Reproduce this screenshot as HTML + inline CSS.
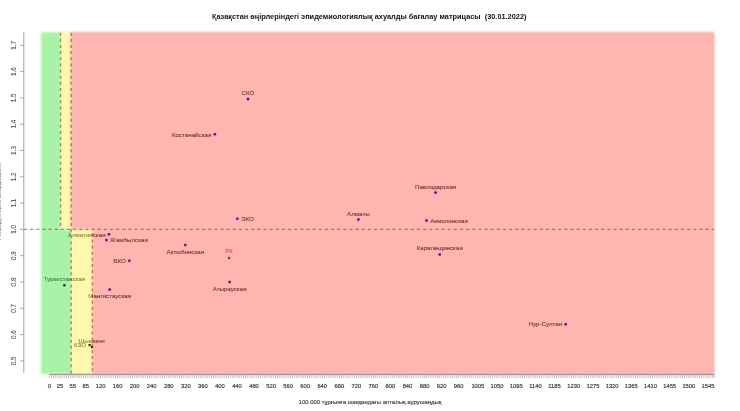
<!DOCTYPE html><html><head><meta charset="utf-8"><style>
html,body{margin:0;padding:0;background:#fff;}
body{width:740px;height:411px;overflow:hidden;font-family:"Liberation Sans",sans-serif;}
svg{display:block;}
text{opacity:0.999;}
.bl{filter:blur(0.8px);}
</style></head><body>
<svg width="740" height="411" viewBox="0 0 740 411" font-family="Liberation Sans, sans-serif">
<rect x="0" y="0" width="740" height="411" fill="#fff"/>
<g class="bl">
<rect x="41.0" y="32.3" width="673.2" height="341.5" fill="#ffb6b0"/>
<rect x="71.1" y="32.8" width="642.6" height="341.0" fill="none" stroke="rgba(120,80,80,0.22)" stroke-width="1"/>
<polygon points="41.0,32.3 71.1,32.3 71.1,229.4 92.4,229.4 92.4,373.8 41.0,373.8" fill="#fdf8ae"/>
<polygon points="41.0,32.3 60.5,32.3 60.5,229.4 71.1,229.4 71.1,373.8 41.0,373.8" fill="#a9f2a9"/>
</g>
<g stroke="rgba(125,40,32,0.55)" stroke-width="1.4" fill="none">
<line x1="60.5" y1="32.3" x2="60.5" y2="229.4" stroke-dasharray="3.0 3.140" stroke-dashoffset="5.740"/>
<line x1="71.1" y1="32.3" x2="71.1" y2="373.8" stroke-dasharray="3.0 3.140" stroke-dashoffset="5.740"/>
<line x1="92.4" y1="229.4" x2="92.4" y2="373.8" stroke-dasharray="3.0 3.140" stroke-dashoffset="2.300"/>
<line x1="20.5" y1="229.4" x2="714.2" y2="229.4" stroke-dasharray="3.0 3.140" stroke-dashoffset="2.580"/>
</g>
<g stroke="#a0a0a0" stroke-width="1" fill="none">
<line x1="23.8" y1="32.3" x2="23.8" y2="372.8"/>
<line x1="20.2" y1="360.90" x2="23.8" y2="360.90"/>
<line x1="20.2" y1="334.60" x2="23.8" y2="334.60"/>
<line x1="20.2" y1="308.30" x2="23.8" y2="308.30"/>
<line x1="20.2" y1="282.00" x2="23.8" y2="282.00"/>
<line x1="20.2" y1="255.70" x2="23.8" y2="255.70"/>
<line x1="20.2" y1="229.40" x2="23.8" y2="229.40"/>
<line x1="20.2" y1="203.10" x2="23.8" y2="203.10"/>
<line x1="20.2" y1="176.80" x2="23.8" y2="176.80"/>
<line x1="20.2" y1="150.50" x2="23.8" y2="150.50"/>
<line x1="20.2" y1="124.20" x2="23.8" y2="124.20"/>
<line x1="20.2" y1="97.90" x2="23.8" y2="97.90"/>
<line x1="20.2" y1="71.60" x2="23.8" y2="71.60"/>
<line x1="20.2" y1="45.30" x2="23.8" y2="45.30"/>
</g>
<g fill="#555" stroke="#555" stroke-width="0.1" font-size="6.3" text-anchor="middle">
<text transform="translate(16.0,360.90) rotate(-90)">0.5</text>
<text transform="translate(16.0,334.60) rotate(-90)">0.6</text>
<text transform="translate(16.0,308.30) rotate(-90)">0.7</text>
<text transform="translate(16.0,282.00) rotate(-90)">0.8</text>
<text transform="translate(16.0,255.70) rotate(-90)">0.9</text>
<text transform="translate(16.0,229.40) rotate(-90)">1.0</text>
<text transform="translate(16.0,203.10) rotate(-90)">1.1</text>
<text transform="translate(16.0,176.80) rotate(-90)">1.2</text>
<text transform="translate(16.0,150.50) rotate(-90)">1.3</text>
<text transform="translate(16.0,124.20) rotate(-90)">1.4</text>
<text transform="translate(16.0,97.90) rotate(-90)">1.5</text>
<text transform="translate(16.0,71.60) rotate(-90)">1.6</text>
<text transform="translate(16.0,45.30) rotate(-90)">1.7</text>
</g>
<text transform="translate(1.3,201) rotate(-90)" font-size="5.7" fill="#6a6a6a" text-anchor="middle">Репродуктивтік коэффициент</text>
<g stroke="#a0a0a8" stroke-width="0.7" fill="none">
<line x1="49.4" y1="374.3" x2="714.4" y2="374.3" stroke="rgba(80,55,55,0.6)" stroke-width="1"/>
<line x1="49.40" y1="374.3" x2="49.40" y2="378.1"/>
<line x1="51.53" y1="374.3" x2="51.53" y2="378.1"/>
<line x1="53.66" y1="374.3" x2="53.66" y2="378.1"/>
<line x1="55.79" y1="374.3" x2="55.79" y2="378.1"/>
<line x1="57.93" y1="374.3" x2="57.93" y2="378.1"/>
<line x1="60.06" y1="374.3" x2="60.06" y2="378.1"/>
<line x1="62.19" y1="374.3" x2="62.19" y2="378.1"/>
<line x1="64.32" y1="374.3" x2="64.32" y2="378.1"/>
<line x1="66.45" y1="374.3" x2="66.45" y2="378.1"/>
<line x1="68.58" y1="374.3" x2="68.58" y2="378.1"/>
<line x1="70.72" y1="374.3" x2="70.72" y2="378.1"/>
<line x1="72.85" y1="374.3" x2="72.85" y2="378.1"/>
<line x1="74.98" y1="374.3" x2="74.98" y2="378.1"/>
<line x1="77.11" y1="374.3" x2="77.11" y2="378.1"/>
<line x1="79.24" y1="374.3" x2="79.24" y2="378.1"/>
<line x1="81.37" y1="374.3" x2="81.37" y2="378.1"/>
<line x1="83.50" y1="374.3" x2="83.50" y2="378.1"/>
<line x1="85.64" y1="374.3" x2="85.64" y2="378.1"/>
<line x1="87.77" y1="374.3" x2="87.77" y2="378.1"/>
<line x1="89.90" y1="374.3" x2="89.90" y2="378.1"/>
<line x1="92.03" y1="374.3" x2="92.03" y2="378.1"/>
<line x1="94.16" y1="374.3" x2="94.16" y2="378.1"/>
<line x1="96.29" y1="374.3" x2="96.29" y2="378.1"/>
<line x1="98.42" y1="374.3" x2="98.42" y2="378.1"/>
<line x1="100.56" y1="374.3" x2="100.56" y2="378.1"/>
<line x1="102.69" y1="374.3" x2="102.69" y2="378.1"/>
<line x1="104.82" y1="374.3" x2="104.82" y2="378.1"/>
<line x1="106.95" y1="374.3" x2="106.95" y2="378.1"/>
<line x1="109.08" y1="374.3" x2="109.08" y2="378.1"/>
<line x1="111.21" y1="374.3" x2="111.21" y2="378.1"/>
<line x1="113.34" y1="374.3" x2="113.34" y2="378.1"/>
<line x1="115.48" y1="374.3" x2="115.48" y2="378.1"/>
<line x1="117.61" y1="374.3" x2="117.61" y2="378.1"/>
<line x1="119.74" y1="374.3" x2="119.74" y2="378.1"/>
<line x1="121.87" y1="374.3" x2="121.87" y2="378.1"/>
<line x1="124.00" y1="374.3" x2="124.00" y2="378.1"/>
<line x1="126.13" y1="374.3" x2="126.13" y2="378.1"/>
<line x1="128.27" y1="374.3" x2="128.27" y2="378.1"/>
<line x1="130.40" y1="374.3" x2="130.40" y2="378.1"/>
<line x1="132.53" y1="374.3" x2="132.53" y2="378.1"/>
<line x1="134.66" y1="374.3" x2="134.66" y2="378.1"/>
<line x1="136.79" y1="374.3" x2="136.79" y2="378.1"/>
<line x1="138.92" y1="374.3" x2="138.92" y2="378.1"/>
<line x1="141.05" y1="374.3" x2="141.05" y2="378.1"/>
<line x1="143.19" y1="374.3" x2="143.19" y2="378.1"/>
<line x1="145.32" y1="374.3" x2="145.32" y2="378.1"/>
<line x1="147.45" y1="374.3" x2="147.45" y2="378.1"/>
<line x1="149.58" y1="374.3" x2="149.58" y2="378.1"/>
<line x1="151.71" y1="374.3" x2="151.71" y2="378.1"/>
<line x1="153.84" y1="374.3" x2="153.84" y2="378.1"/>
<line x1="155.97" y1="374.3" x2="155.97" y2="378.1"/>
<line x1="158.11" y1="374.3" x2="158.11" y2="378.1"/>
<line x1="160.24" y1="374.3" x2="160.24" y2="378.1"/>
<line x1="162.37" y1="374.3" x2="162.37" y2="378.1"/>
<line x1="164.50" y1="374.3" x2="164.50" y2="378.1"/>
<line x1="166.63" y1="374.3" x2="166.63" y2="378.1"/>
<line x1="168.76" y1="374.3" x2="168.76" y2="378.1"/>
<line x1="170.90" y1="374.3" x2="170.90" y2="378.1"/>
<line x1="173.03" y1="374.3" x2="173.03" y2="378.1"/>
<line x1="175.16" y1="374.3" x2="175.16" y2="378.1"/>
<line x1="177.29" y1="374.3" x2="177.29" y2="378.1"/>
<line x1="179.42" y1="374.3" x2="179.42" y2="378.1"/>
<line x1="181.55" y1="374.3" x2="181.55" y2="378.1"/>
<line x1="183.68" y1="374.3" x2="183.68" y2="378.1"/>
<line x1="185.82" y1="374.3" x2="185.82" y2="378.1"/>
<line x1="187.95" y1="374.3" x2="187.95" y2="378.1"/>
<line x1="190.08" y1="374.3" x2="190.08" y2="378.1"/>
<line x1="192.21" y1="374.3" x2="192.21" y2="378.1"/>
<line x1="194.34" y1="374.3" x2="194.34" y2="378.1"/>
<line x1="196.47" y1="374.3" x2="196.47" y2="378.1"/>
<line x1="198.61" y1="374.3" x2="198.61" y2="378.1"/>
<line x1="200.74" y1="374.3" x2="200.74" y2="378.1"/>
<line x1="202.87" y1="374.3" x2="202.87" y2="378.1"/>
<line x1="205.00" y1="374.3" x2="205.00" y2="378.1"/>
<line x1="207.13" y1="374.3" x2="207.13" y2="378.1"/>
<line x1="209.26" y1="374.3" x2="209.26" y2="378.1"/>
<line x1="211.39" y1="374.3" x2="211.39" y2="378.1"/>
<line x1="213.53" y1="374.3" x2="213.53" y2="378.1"/>
<line x1="215.66" y1="374.3" x2="215.66" y2="378.1"/>
<line x1="217.79" y1="374.3" x2="217.79" y2="378.1"/>
<line x1="219.92" y1="374.3" x2="219.92" y2="378.1"/>
<line x1="222.05" y1="374.3" x2="222.05" y2="378.1"/>
<line x1="224.18" y1="374.3" x2="224.18" y2="378.1"/>
<line x1="226.31" y1="374.3" x2="226.31" y2="378.1"/>
<line x1="228.45" y1="374.3" x2="228.45" y2="378.1"/>
<line x1="230.58" y1="374.3" x2="230.58" y2="378.1"/>
<line x1="232.71" y1="374.3" x2="232.71" y2="378.1"/>
<line x1="234.84" y1="374.3" x2="234.84" y2="378.1"/>
<line x1="236.97" y1="374.3" x2="236.97" y2="378.1"/>
<line x1="239.10" y1="374.3" x2="239.10" y2="378.1"/>
<line x1="241.24" y1="374.3" x2="241.24" y2="378.1"/>
<line x1="243.37" y1="374.3" x2="243.37" y2="378.1"/>
<line x1="245.50" y1="374.3" x2="245.50" y2="378.1"/>
<line x1="247.63" y1="374.3" x2="247.63" y2="378.1"/>
<line x1="249.76" y1="374.3" x2="249.76" y2="378.1"/>
<line x1="251.89" y1="374.3" x2="251.89" y2="378.1"/>
<line x1="254.02" y1="374.3" x2="254.02" y2="378.1"/>
<line x1="256.16" y1="374.3" x2="256.16" y2="378.1"/>
<line x1="258.29" y1="374.3" x2="258.29" y2="378.1"/>
<line x1="260.42" y1="374.3" x2="260.42" y2="378.1"/>
<line x1="262.55" y1="374.3" x2="262.55" y2="378.1"/>
<line x1="264.68" y1="374.3" x2="264.68" y2="378.1"/>
<line x1="266.81" y1="374.3" x2="266.81" y2="378.1"/>
<line x1="268.94" y1="374.3" x2="268.94" y2="378.1"/>
<line x1="271.08" y1="374.3" x2="271.08" y2="378.1"/>
<line x1="273.21" y1="374.3" x2="273.21" y2="378.1"/>
<line x1="275.34" y1="374.3" x2="275.34" y2="378.1"/>
<line x1="277.47" y1="374.3" x2="277.47" y2="378.1"/>
<line x1="279.60" y1="374.3" x2="279.60" y2="378.1"/>
<line x1="281.73" y1="374.3" x2="281.73" y2="378.1"/>
<line x1="283.87" y1="374.3" x2="283.87" y2="378.1"/>
<line x1="286.00" y1="374.3" x2="286.00" y2="378.1"/>
<line x1="288.13" y1="374.3" x2="288.13" y2="378.1"/>
<line x1="290.26" y1="374.3" x2="290.26" y2="378.1"/>
<line x1="292.39" y1="374.3" x2="292.39" y2="378.1"/>
<line x1="294.52" y1="374.3" x2="294.52" y2="378.1"/>
<line x1="296.65" y1="374.3" x2="296.65" y2="378.1"/>
<line x1="298.79" y1="374.3" x2="298.79" y2="378.1"/>
<line x1="300.92" y1="374.3" x2="300.92" y2="378.1"/>
<line x1="303.05" y1="374.3" x2="303.05" y2="378.1"/>
<line x1="305.18" y1="374.3" x2="305.18" y2="378.1"/>
<line x1="307.31" y1="374.3" x2="307.31" y2="378.1"/>
<line x1="309.44" y1="374.3" x2="309.44" y2="378.1"/>
<line x1="311.57" y1="374.3" x2="311.57" y2="378.1"/>
<line x1="313.71" y1="374.3" x2="313.71" y2="378.1"/>
<line x1="315.84" y1="374.3" x2="315.84" y2="378.1"/>
<line x1="317.97" y1="374.3" x2="317.97" y2="378.1"/>
<line x1="320.10" y1="374.3" x2="320.10" y2="378.1"/>
<line x1="322.23" y1="374.3" x2="322.23" y2="378.1"/>
<line x1="324.36" y1="374.3" x2="324.36" y2="378.1"/>
<line x1="326.50" y1="374.3" x2="326.50" y2="378.1"/>
<line x1="328.63" y1="374.3" x2="328.63" y2="378.1"/>
<line x1="330.76" y1="374.3" x2="330.76" y2="378.1"/>
<line x1="332.89" y1="374.3" x2="332.89" y2="378.1"/>
<line x1="335.02" y1="374.3" x2="335.02" y2="378.1"/>
<line x1="337.15" y1="374.3" x2="337.15" y2="378.1"/>
<line x1="339.28" y1="374.3" x2="339.28" y2="378.1"/>
<line x1="341.42" y1="374.3" x2="341.42" y2="378.1"/>
<line x1="343.55" y1="374.3" x2="343.55" y2="378.1"/>
<line x1="345.68" y1="374.3" x2="345.68" y2="378.1"/>
<line x1="347.81" y1="374.3" x2="347.81" y2="378.1"/>
<line x1="349.94" y1="374.3" x2="349.94" y2="378.1"/>
<line x1="352.07" y1="374.3" x2="352.07" y2="378.1"/>
<line x1="354.20" y1="374.3" x2="354.20" y2="378.1"/>
<line x1="356.34" y1="374.3" x2="356.34" y2="378.1"/>
<line x1="358.47" y1="374.3" x2="358.47" y2="378.1"/>
<line x1="360.60" y1="374.3" x2="360.60" y2="378.1"/>
<line x1="362.73" y1="374.3" x2="362.73" y2="378.1"/>
<line x1="364.86" y1="374.3" x2="364.86" y2="378.1"/>
<line x1="366.99" y1="374.3" x2="366.99" y2="378.1"/>
<line x1="369.12" y1="374.3" x2="369.12" y2="378.1"/>
<line x1="371.26" y1="374.3" x2="371.26" y2="378.1"/>
<line x1="373.39" y1="374.3" x2="373.39" y2="378.1"/>
<line x1="375.52" y1="374.3" x2="375.52" y2="378.1"/>
<line x1="377.65" y1="374.3" x2="377.65" y2="378.1"/>
<line x1="379.78" y1="374.3" x2="379.78" y2="378.1"/>
<line x1="381.91" y1="374.3" x2="381.91" y2="378.1"/>
<line x1="384.05" y1="374.3" x2="384.05" y2="378.1"/>
<line x1="386.18" y1="374.3" x2="386.18" y2="378.1"/>
<line x1="388.31" y1="374.3" x2="388.31" y2="378.1"/>
<line x1="390.44" y1="374.3" x2="390.44" y2="378.1"/>
<line x1="392.57" y1="374.3" x2="392.57" y2="378.1"/>
<line x1="394.70" y1="374.3" x2="394.70" y2="378.1"/>
<line x1="396.83" y1="374.3" x2="396.83" y2="378.1"/>
<line x1="398.97" y1="374.3" x2="398.97" y2="378.1"/>
<line x1="401.10" y1="374.3" x2="401.10" y2="378.1"/>
<line x1="403.23" y1="374.3" x2="403.23" y2="378.1"/>
<line x1="405.36" y1="374.3" x2="405.36" y2="378.1"/>
<line x1="407.49" y1="374.3" x2="407.49" y2="378.1"/>
<line x1="409.62" y1="374.3" x2="409.62" y2="378.1"/>
<line x1="411.75" y1="374.3" x2="411.75" y2="378.1"/>
<line x1="413.89" y1="374.3" x2="413.89" y2="378.1"/>
<line x1="416.02" y1="374.3" x2="416.02" y2="378.1"/>
<line x1="418.15" y1="374.3" x2="418.15" y2="378.1"/>
<line x1="420.28" y1="374.3" x2="420.28" y2="378.1"/>
<line x1="422.41" y1="374.3" x2="422.41" y2="378.1"/>
<line x1="424.54" y1="374.3" x2="424.54" y2="378.1"/>
<line x1="426.68" y1="374.3" x2="426.68" y2="378.1"/>
<line x1="428.81" y1="374.3" x2="428.81" y2="378.1"/>
<line x1="430.94" y1="374.3" x2="430.94" y2="378.1"/>
<line x1="433.07" y1="374.3" x2="433.07" y2="378.1"/>
<line x1="435.20" y1="374.3" x2="435.20" y2="378.1"/>
<line x1="437.33" y1="374.3" x2="437.33" y2="378.1"/>
<line x1="439.46" y1="374.3" x2="439.46" y2="378.1"/>
<line x1="441.60" y1="374.3" x2="441.60" y2="378.1"/>
<line x1="443.73" y1="374.3" x2="443.73" y2="378.1"/>
<line x1="445.86" y1="374.3" x2="445.86" y2="378.1"/>
<line x1="447.99" y1="374.3" x2="447.99" y2="378.1"/>
<line x1="450.12" y1="374.3" x2="450.12" y2="378.1"/>
<line x1="452.25" y1="374.3" x2="452.25" y2="378.1"/>
<line x1="454.38" y1="374.3" x2="454.38" y2="378.1"/>
<line x1="456.52" y1="374.3" x2="456.52" y2="378.1"/>
<line x1="458.65" y1="374.3" x2="458.65" y2="378.1"/>
<line x1="460.78" y1="374.3" x2="460.78" y2="378.1"/>
<line x1="462.91" y1="374.3" x2="462.91" y2="378.1"/>
<line x1="465.04" y1="374.3" x2="465.04" y2="378.1"/>
<line x1="467.17" y1="374.3" x2="467.17" y2="378.1"/>
<line x1="469.31" y1="374.3" x2="469.31" y2="378.1"/>
<line x1="471.44" y1="374.3" x2="471.44" y2="378.1"/>
<line x1="473.57" y1="374.3" x2="473.57" y2="378.1"/>
<line x1="475.70" y1="374.3" x2="475.70" y2="378.1"/>
<line x1="477.83" y1="374.3" x2="477.83" y2="378.1"/>
<line x1="479.96" y1="374.3" x2="479.96" y2="378.1"/>
<line x1="482.09" y1="374.3" x2="482.09" y2="378.1"/>
<line x1="484.23" y1="374.3" x2="484.23" y2="378.1"/>
<line x1="486.36" y1="374.3" x2="486.36" y2="378.1"/>
<line x1="488.49" y1="374.3" x2="488.49" y2="378.1"/>
<line x1="490.62" y1="374.3" x2="490.62" y2="378.1"/>
<line x1="492.75" y1="374.3" x2="492.75" y2="378.1"/>
<line x1="494.88" y1="374.3" x2="494.88" y2="378.1"/>
<line x1="497.01" y1="374.3" x2="497.01" y2="378.1"/>
<line x1="499.15" y1="374.3" x2="499.15" y2="378.1"/>
<line x1="501.28" y1="374.3" x2="501.28" y2="378.1"/>
<line x1="503.41" y1="374.3" x2="503.41" y2="378.1"/>
<line x1="505.54" y1="374.3" x2="505.54" y2="378.1"/>
<line x1="507.67" y1="374.3" x2="507.67" y2="378.1"/>
<line x1="509.80" y1="374.3" x2="509.80" y2="378.1"/>
<line x1="511.94" y1="374.3" x2="511.94" y2="378.1"/>
<line x1="514.07" y1="374.3" x2="514.07" y2="378.1"/>
<line x1="516.20" y1="374.3" x2="516.20" y2="378.1"/>
<line x1="518.33" y1="374.3" x2="518.33" y2="378.1"/>
<line x1="520.46" y1="374.3" x2="520.46" y2="378.1"/>
<line x1="522.59" y1="374.3" x2="522.59" y2="378.1"/>
<line x1="524.72" y1="374.3" x2="524.72" y2="378.1"/>
<line x1="526.86" y1="374.3" x2="526.86" y2="378.1"/>
<line x1="528.99" y1="374.3" x2="528.99" y2="378.1"/>
<line x1="531.12" y1="374.3" x2="531.12" y2="378.1"/>
<line x1="533.25" y1="374.3" x2="533.25" y2="378.1"/>
<line x1="535.38" y1="374.3" x2="535.38" y2="378.1"/>
<line x1="537.51" y1="374.3" x2="537.51" y2="378.1"/>
<line x1="539.64" y1="374.3" x2="539.64" y2="378.1"/>
<line x1="541.78" y1="374.3" x2="541.78" y2="378.1"/>
<line x1="543.91" y1="374.3" x2="543.91" y2="378.1"/>
<line x1="546.04" y1="374.3" x2="546.04" y2="378.1"/>
<line x1="548.17" y1="374.3" x2="548.17" y2="378.1"/>
<line x1="550.30" y1="374.3" x2="550.30" y2="378.1"/>
<line x1="552.43" y1="374.3" x2="552.43" y2="378.1"/>
<line x1="554.57" y1="374.3" x2="554.57" y2="378.1"/>
<line x1="556.70" y1="374.3" x2="556.70" y2="378.1"/>
<line x1="558.83" y1="374.3" x2="558.83" y2="378.1"/>
<line x1="560.96" y1="374.3" x2="560.96" y2="378.1"/>
<line x1="563.09" y1="374.3" x2="563.09" y2="378.1"/>
<line x1="565.22" y1="374.3" x2="565.22" y2="378.1"/>
<line x1="567.35" y1="374.3" x2="567.35" y2="378.1"/>
<line x1="569.49" y1="374.3" x2="569.49" y2="378.1"/>
<line x1="571.62" y1="374.3" x2="571.62" y2="378.1"/>
<line x1="573.75" y1="374.3" x2="573.75" y2="378.1"/>
<line x1="575.88" y1="374.3" x2="575.88" y2="378.1"/>
<line x1="578.01" y1="374.3" x2="578.01" y2="378.1"/>
<line x1="580.14" y1="374.3" x2="580.14" y2="378.1"/>
<line x1="582.27" y1="374.3" x2="582.27" y2="378.1"/>
<line x1="584.41" y1="374.3" x2="584.41" y2="378.1"/>
<line x1="586.54" y1="374.3" x2="586.54" y2="378.1"/>
<line x1="588.67" y1="374.3" x2="588.67" y2="378.1"/>
<line x1="590.80" y1="374.3" x2="590.80" y2="378.1"/>
<line x1="592.93" y1="374.3" x2="592.93" y2="378.1"/>
<line x1="595.06" y1="374.3" x2="595.06" y2="378.1"/>
<line x1="597.20" y1="374.3" x2="597.20" y2="378.1"/>
<line x1="599.33" y1="374.3" x2="599.33" y2="378.1"/>
<line x1="601.46" y1="374.3" x2="601.46" y2="378.1"/>
<line x1="603.59" y1="374.3" x2="603.59" y2="378.1"/>
<line x1="605.72" y1="374.3" x2="605.72" y2="378.1"/>
<line x1="607.85" y1="374.3" x2="607.85" y2="378.1"/>
<line x1="609.98" y1="374.3" x2="609.98" y2="378.1"/>
<line x1="612.12" y1="374.3" x2="612.12" y2="378.1"/>
<line x1="614.25" y1="374.3" x2="614.25" y2="378.1"/>
<line x1="616.38" y1="374.3" x2="616.38" y2="378.1"/>
<line x1="618.51" y1="374.3" x2="618.51" y2="378.1"/>
<line x1="620.64" y1="374.3" x2="620.64" y2="378.1"/>
<line x1="622.77" y1="374.3" x2="622.77" y2="378.1"/>
<line x1="624.90" y1="374.3" x2="624.90" y2="378.1"/>
<line x1="627.04" y1="374.3" x2="627.04" y2="378.1"/>
<line x1="629.17" y1="374.3" x2="629.17" y2="378.1"/>
<line x1="631.30" y1="374.3" x2="631.30" y2="378.1"/>
<line x1="633.43" y1="374.3" x2="633.43" y2="378.1"/>
<line x1="635.56" y1="374.3" x2="635.56" y2="378.1"/>
<line x1="637.69" y1="374.3" x2="637.69" y2="378.1"/>
<line x1="639.83" y1="374.3" x2="639.83" y2="378.1"/>
<line x1="641.96" y1="374.3" x2="641.96" y2="378.1"/>
<line x1="644.09" y1="374.3" x2="644.09" y2="378.1"/>
<line x1="646.22" y1="374.3" x2="646.22" y2="378.1"/>
<line x1="648.35" y1="374.3" x2="648.35" y2="378.1"/>
<line x1="650.48" y1="374.3" x2="650.48" y2="378.1"/>
<line x1="652.61" y1="374.3" x2="652.61" y2="378.1"/>
<line x1="654.75" y1="374.3" x2="654.75" y2="378.1"/>
<line x1="656.88" y1="374.3" x2="656.88" y2="378.1"/>
<line x1="659.01" y1="374.3" x2="659.01" y2="378.1"/>
<line x1="661.14" y1="374.3" x2="661.14" y2="378.1"/>
<line x1="663.27" y1="374.3" x2="663.27" y2="378.1"/>
<line x1="665.40" y1="374.3" x2="665.40" y2="378.1"/>
<line x1="667.53" y1="374.3" x2="667.53" y2="378.1"/>
<line x1="669.67" y1="374.3" x2="669.67" y2="378.1"/>
<line x1="671.80" y1="374.3" x2="671.80" y2="378.1"/>
<line x1="673.93" y1="374.3" x2="673.93" y2="378.1"/>
<line x1="676.06" y1="374.3" x2="676.06" y2="378.1"/>
<line x1="678.19" y1="374.3" x2="678.19" y2="378.1"/>
<line x1="680.32" y1="374.3" x2="680.32" y2="378.1"/>
<line x1="682.46" y1="374.3" x2="682.46" y2="378.1"/>
<line x1="684.59" y1="374.3" x2="684.59" y2="378.1"/>
<line x1="686.72" y1="374.3" x2="686.72" y2="378.1"/>
<line x1="688.85" y1="374.3" x2="688.85" y2="378.1"/>
<line x1="690.98" y1="374.3" x2="690.98" y2="378.1"/>
<line x1="693.11" y1="374.3" x2="693.11" y2="378.1"/>
<line x1="695.24" y1="374.3" x2="695.24" y2="378.1"/>
<line x1="697.38" y1="374.3" x2="697.38" y2="378.1"/>
<line x1="699.51" y1="374.3" x2="699.51" y2="378.1"/>
<line x1="701.64" y1="374.3" x2="701.64" y2="378.1"/>
<line x1="703.77" y1="374.3" x2="703.77" y2="378.1"/>
<line x1="705.90" y1="374.3" x2="705.90" y2="378.1"/>
<line x1="708.03" y1="374.3" x2="708.03" y2="378.1"/>
<line x1="710.16" y1="374.3" x2="710.16" y2="378.1"/>
<line x1="712.30" y1="374.3" x2="712.30" y2="378.1"/>
<line x1="714.43" y1="374.3" x2="714.43" y2="378.1"/>
</g>
<g fill="#3a3a3a" stroke="#3a3a3a" stroke-width="0.18" font-size="5.8" text-anchor="middle">
<text x="49.40" y="387.6">0</text>
<text x="60.06" y="387.6">25</text>
<text x="72.85" y="387.6">55</text>
<text x="85.64" y="387.6">85</text>
<text x="100.56" y="387.6">120</text>
<text x="117.61" y="387.6">160</text>
<text x="134.66" y="387.6">200</text>
<text x="151.71" y="387.6">240</text>
<text x="168.76" y="387.6">280</text>
<text x="185.82" y="387.6">320</text>
<text x="202.87" y="387.6">360</text>
<text x="219.92" y="387.6">400</text>
<text x="236.97" y="387.6">440</text>
<text x="254.02" y="387.6">480</text>
<text x="271.08" y="387.6">520</text>
<text x="288.13" y="387.6">560</text>
<text x="305.18" y="387.6">600</text>
<text x="322.23" y="387.6">640</text>
<text x="339.28" y="387.6">680</text>
<text x="356.34" y="387.6">720</text>
<text x="373.39" y="387.6">760</text>
<text x="390.44" y="387.6">800</text>
<text x="407.49" y="387.6">840</text>
<text x="424.54" y="387.6">880</text>
<text x="441.60" y="387.6">920</text>
<text x="458.65" y="387.6">960</text>
<text x="477.83" y="387.6">1005</text>
<text x="497.01" y="387.6">1050</text>
<text x="516.20" y="387.6">1095</text>
<text x="535.38" y="387.6">1140</text>
<text x="554.57" y="387.6">1185</text>
<text x="573.75" y="387.6">1230</text>
<text x="592.93" y="387.6">1275</text>
<text x="612.12" y="387.6">1320</text>
<text x="631.30" y="387.6">1365</text>
<text x="650.48" y="387.6">1410</text>
<text x="669.67" y="387.6">1455</text>
<text x="688.85" y="387.6">1500</text>
<text x="708.03" y="387.6">1545</text>
</g>
<text x="370" y="403.8" font-size="5.98" fill="#404040" stroke="#404040" stroke-width="0.15" text-anchor="middle">100 000 тұрғынға шаққандағы апталық аурушаңдық</text>
<text x="369.2" y="19.1" font-size="7.37" font-weight="bold" fill="#111" text-anchor="middle">Қазақстан өңірлеріндегі эпидемиологиялық ахуалды бағалау матрицасы&#160;&#160;(30.01.2022)</text>
<defs>
<linearGradient id="lu" gradientUnits="userSpaceOnUse" x1="0" y1="0" x2="740" y2="0">
<stop offset="0.00000" stop-color="rgb(35,95,35)" stop-opacity="0.7"/>
<stop offset="0.08176" stop-color="rgb(35,95,35)" stop-opacity="0.7"/>
<stop offset="0.08176" stop-color="rgb(110,95,15)" stop-opacity="0.7"/>
<stop offset="0.09608" stop-color="rgb(110,95,15)" stop-opacity="0.7"/>
<stop offset="0.09608" stop-color="rgb(100,10,22)" stop-opacity="0.74"/>
<stop offset="1.00000" stop-color="rgb(100,10,22)" stop-opacity="0.74"/>
</linearGradient>
<linearGradient id="ll" gradientUnits="userSpaceOnUse" x1="0" y1="0" x2="740" y2="0">
<stop offset="0.00000" stop-color="rgb(35,95,35)" stop-opacity="0.7"/>
<stop offset="0.09608" stop-color="rgb(35,95,35)" stop-opacity="0.7"/>
<stop offset="0.09608" stop-color="rgb(110,95,15)" stop-opacity="0.7"/>
<stop offset="0.12486" stop-color="rgb(110,95,15)" stop-opacity="0.7"/>
<stop offset="0.12486" stop-color="rgb(100,10,22)" stop-opacity="0.74"/>
<stop offset="1.00000" stop-color="rgb(100,10,22)" stop-opacity="0.74"/>
</linearGradient>
</defs>
<circle cx="248.0" cy="99.1" r="2.6" fill="rgba(225,150,235,0.3)"/>
<circle cx="248.0" cy="99.1" r="1.3" fill="#601060"/>
<text x="248.0" y="95.00" font-size="6.2" fill="url(#lu)" stroke="url(#lu)" stroke-width="0.12" text-anchor="middle">СКО</text>
<circle cx="214.8" cy="134.3" r="2.6" fill="rgba(225,150,235,0.3)"/>
<circle cx="214.8" cy="134.3" r="1.3" fill="#601060"/>
<text x="211.30" y="136.50" font-size="6.2" fill="url(#lu)" stroke="url(#lu)" stroke-width="0.12" text-anchor="end">Костанайская</text>
<circle cx="237.3" cy="218.7" r="2.6" fill="rgba(225,150,235,0.3)"/>
<circle cx="237.3" cy="218.7" r="1.3" fill="#601060"/>
<text x="241.00" y="220.90" font-size="6.2" fill="url(#lu)" stroke="url(#lu)" stroke-width="0.12" text-anchor="start">ЭКО</text>
<circle cx="358.4" cy="219.6" r="2.6" fill="rgba(225,150,235,0.3)"/>
<circle cx="358.4" cy="219.6" r="1.3" fill="#601060"/>
<text x="358.4" y="215.50" font-size="6.2" fill="url(#lu)" stroke="url(#lu)" stroke-width="0.12" text-anchor="middle">Алматы</text>
<circle cx="435.6" cy="192.6" r="2.6" fill="rgba(225,150,235,0.3)"/>
<circle cx="435.6" cy="192.6" r="1.3" fill="#601060"/>
<text x="435.6" y="188.50" font-size="6.2" fill="url(#lu)" stroke="url(#lu)" stroke-width="0.12" text-anchor="middle">Павлодарская</text>
<circle cx="426.5" cy="220.6" r="2.6" fill="rgba(225,150,235,0.3)"/>
<circle cx="426.5" cy="220.6" r="1.3" fill="#601060"/>
<text x="430.20" y="222.80" font-size="6.2" fill="url(#lu)" stroke="url(#lu)" stroke-width="0.12" text-anchor="start">Акмолинская</text>
<circle cx="109.0" cy="234.3" r="2.6" fill="rgba(225,150,235,0.3)"/>
<circle cx="109.0" cy="234.3" r="1.3" fill="#601060"/>
<text x="105.50" y="236.50" font-size="6.2" fill="url(#ll)" stroke="url(#ll)" stroke-width="0.12" text-anchor="end">Алматинская</text>
<circle cx="106.4" cy="240.1" r="2.6" fill="rgba(225,150,235,0.3)"/>
<circle cx="106.4" cy="240.1" r="1.3" fill="#601060"/>
<text x="110.10" y="242.30" font-size="6.2" fill="url(#ll)" stroke="url(#ll)" stroke-width="0.12" text-anchor="start">Жамбылская</text>
<circle cx="185.3" cy="245.0" r="2.6" fill="rgba(225,150,235,0.3)"/>
<circle cx="185.3" cy="245.0" r="1.3" fill="#601060"/>
<text x="185.3" y="253.70" font-size="6.2" fill="url(#ll)" stroke="url(#ll)" stroke-width="0.12" text-anchor="middle">Актюбинская</text>
<circle cx="229.1" cy="258.0" r="1.3" fill="#b82020"/>
<text x="229.1" y="253.20" font-size="6.2" fill="rgba(215,35,35,0.7)" stroke="rgba(215,35,35,0.7)" stroke-width="0.12" text-anchor="middle">РК</text>
<circle cx="129.3" cy="260.8" r="2.6" fill="rgba(225,150,235,0.3)"/>
<circle cx="129.3" cy="260.8" r="1.3" fill="#601060"/>
<text x="125.80" y="263.00" font-size="6.2" fill="url(#ll)" stroke="url(#ll)" stroke-width="0.12" text-anchor="end">ВКО</text>
<circle cx="439.7" cy="254.5" r="2.6" fill="rgba(225,150,235,0.3)"/>
<circle cx="439.7" cy="254.5" r="1.3" fill="#601060"/>
<text x="439.7" y="250.40" font-size="6.2" fill="url(#ll)" stroke="url(#ll)" stroke-width="0.12" text-anchor="middle">Карагандинская</text>
<circle cx="64.4" cy="285.3" r="1.3" fill="#0c3a1c"/>
<text x="64.4" y="281.20" font-size="6.2" fill="url(#ll)" stroke="url(#ll)" stroke-width="0.12" text-anchor="middle">Туркестанская</text>
<circle cx="109.7" cy="289.6" r="2.6" fill="rgba(225,150,235,0.3)"/>
<circle cx="109.7" cy="289.6" r="1.3" fill="#601060"/>
<text x="109.7" y="298.30" font-size="6.2" fill="url(#ll)" stroke="url(#ll)" stroke-width="0.12" text-anchor="middle">Мангистауская</text>
<circle cx="229.6" cy="282.0" r="2.6" fill="rgba(225,150,235,0.3)"/>
<circle cx="229.6" cy="282.0" r="1.3" fill="#601060"/>
<text x="229.6" y="290.70" font-size="6.2" fill="url(#ll)" stroke="url(#ll)" stroke-width="0.12" text-anchor="middle">Атырауская</text>
<circle cx="565.7" cy="324.2" r="2.6" fill="rgba(225,150,235,0.3)"/>
<circle cx="565.7" cy="324.2" r="1.3" fill="#601060"/>
<text x="562.20" y="326.40" font-size="6.2" fill="url(#ll)" stroke="url(#ll)" stroke-width="0.12" text-anchor="end">Нур-Султан</text>
<circle cx="92.0" cy="347.0" r="1.3" fill="#3c3206"/>
<text x="92.0" y="342.90" font-size="6.2" fill="url(#ll)" stroke="url(#ll)" stroke-width="0.12" text-anchor="middle">Шымкент</text>
<circle cx="89.6" cy="345.0" r="1.3" fill="#3c3206"/>
<text x="86.10" y="347.20" font-size="6.2" fill="url(#ll)" stroke="url(#ll)" stroke-width="0.12" text-anchor="end">КЗО</text>
</svg></body></html>
